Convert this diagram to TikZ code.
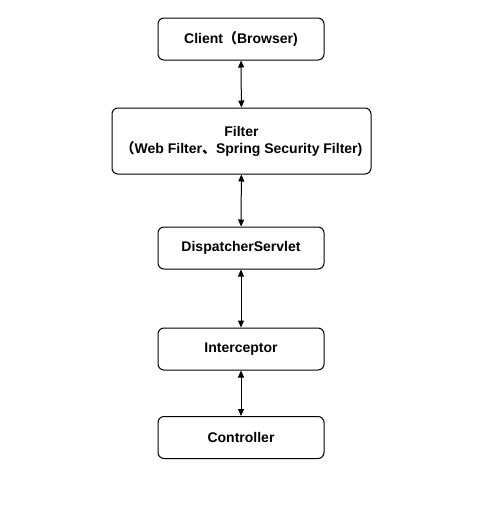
\documentclass[tikz,border=0pt]{standalone}
\usepackage{fontspec}
\setmainfont{Liberation Sans}
\newfontfamily\cjk{Noto Sans CJK SC}
\usetikzlibrary{arrows.meta}
\begin{document}
\begin{tikzpicture}[x=1pt,y=-1pt,
  box/.style={draw, line width=1pt, rounded corners=6pt, align=center,
    font=\fontsize{14}{17}\selectfont\bfseries, inner sep=0pt},
  link/.style={line width=1pt, {Triangle[length=7pt,width=6pt]}-{Triangle[length=7pt,width=6pt]}}]
\useasboundingbox (0,0) rectangle (503,514);
\node[box, minimum width=166pt, minimum height=42pt] (client) at (241,39) {Client{\cjk （}Browser)};
\node[box, minimum width=259pt, minimum height=66pt] (filter) at (241.5,141) {Filter\\{\cjk （}Web Filter{\cjk 、}Spring Security Filter)};
\node[box, minimum width=166pt, minimum height=42pt] (ds) at (241,248) {DispatcherServlet};
\node[box, minimum width=166pt, minimum height=42pt] (ic) at (241,349) {Interceptor};
\node[box, minimum width=166pt, minimum height=42pt] (ctrl) at (241,437.5) {Controller};
\draw[link] (client) -- (filter);
\draw[link] (filter) -- (ds);
\draw[link] (ds) -- (ic);
\draw[link] (ic) -- (ctrl);
\end{tikzpicture}
\end{document}
